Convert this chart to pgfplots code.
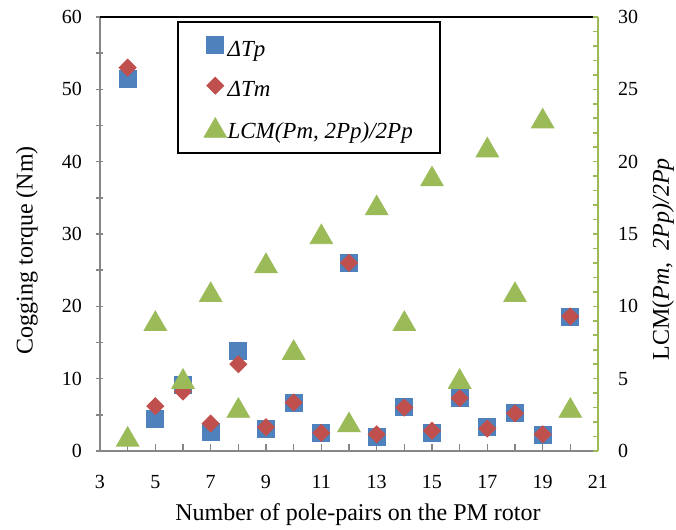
\documentclass[border=0pt]{standalone}
\usepackage{fontspec}
\setmainfont{Liberation Serif}
\usepackage{pgfplots}
\usepackage{pgfplotstable}
\pgfplotsset{compat=1.18}
\definecolor{cblue}{HTML}{4F81BD}
\definecolor{cred}{HTML}{C0504D}
\definecolor{cgreen}{HTML}{9BBB59}
\definecolor{cgray}{HTML}{868686}

\pgfplotstableread{
x  Tp    Tm    L
4  51.5  53.0  1
5  4.4   6.2   9
6  9.1   8.2   5
7  2.6   3.8   11
8  13.8  12.0  3
9  3.1   3.3   13
10 6.7   6.7   7
11 2.5   2.5   15
12 26.0  26.0  2
13 2.0   2.3   17
14 6.1   6.0   9
15 2.5   2.8   19
16 7.3   7.3   5
17 3.3   3.1   21
18 5.2   5.2   11
19 2.2   2.3   23
20 18.5  18.6  3
}\datatable

\begin{document}
\begin{tikzpicture}
\path[use as bounding box] (-50pt,-39.5pt) rectangle (288pt,225.5pt);
\begin{axis}[
  scale only axis, width=249pt, height=217pt,
  xmin=3, xmax=21, ymin=0, ymax=60,
  axis x line*=bottom, axis y line*=left,
  axis line style={cgray, line width=1pt},
  tick align=inside,
  xtick={3,5,...,21}, minor xtick={4,...,20},
  ytick={0,10,...,60}, minor ytick={5,15,...,55},
  major tick length=3.5pt, minor tick length=3.5pt,
  x tick style={cgray, line width=0.8pt},
  y tick style={cgray, line width=0.8pt, xshift=-2pt},
  tick label style={font=\fontsize{10}{12}\selectfont},
  /pgf/number format/assume math mode=true,
  xticklabel style={yshift=-8.5pt},
  yticklabel style={xshift=-5.5pt},
  xlabel={Number of pole-pairs on the PM rotor},
  ylabel={Cogging torque (Nm)},
  label style={font=\fontsize{12}{14}\selectfont},
  xlabel style={at={(axis description cs:0.518,-0.1475)}, anchor=center},
  ylabel style={at={(axis description cs:-0.1466,0.463)}, anchor=center},
  clip=false,
]
\draw[black, line width=0.8pt] (rel axis cs:0,1) -- (rel axis cs:1,1);
\addplot[only marks, mark=square*, mark size=4.25pt, mark options={draw=cblue, fill=cblue}] table[x=x, y=Tp] {\datatable};
\addplot[only marks, mark=square*, mark size=3pt, mark options={draw=cred, fill=cred, rotate=45}] table[x=x, y=Tm] {\datatable};
\end{axis}
\begin{axis}[
  scale only axis, width=249pt, height=217pt,
  xmin=3, xmax=21, ymin=0, ymax=30,
  axis x line=none, axis y line*=right,
  axis line style={cgreen, line width=1pt},
  tick align=inside,
  ytick={0,5,...,30}, minor ytick={1,...,29},
  major tick length=2.5pt, minor tick length=2.5pt,
  y tick style={cgreen, line width=0.8pt},
  tick label style={font=\fontsize{10}{12}\selectfont},
  /pgf/number format/assume math mode=true,
  yticklabel style={xshift=6.5pt},
  ylabel={LCM(\textit{Pm}, \ \textit{2Pp)/2Pp}},
  label style={font=\fontsize{12}{14}\selectfont},
  ylabel style={at={(axis description cs:1.1305,0.442)}, anchor=center},
  clip=false,
  legend image code/.code={\draw[#1] plot coordinates {(0cm,0.09cm)};},
  legend style={draw=none, fill=none, at={(axis description cs:0.196,0.965)}, anchor=north west,
    font=\fontsize{11.5}{14}\selectfont\itshape, row sep=7pt,
    nodes={inner sep=0.5pt, text height=9pt, text depth=3pt}},
  legend cell align=left,
]
\draw[black, line width=0.8pt, fill=white] (rel axis cs:0.1566,0.6866) rectangle (rel axis cs:0.683,0.9885);
\addlegendimage{only marks, mark=square*, mark size=4.25pt, mark options={draw=cblue, fill=cblue}}
\addlegendentry{ΔTp}
\addlegendimage{only marks, mark=square*, mark size=3pt, mark options={draw=cred, fill=cred, rotate=45}}
\addlegendentry{ΔTm}
\addplot[only marks, mark=triangle*, mark size=6.5pt, mark options={draw=cgreen, fill=cgreen, yshift=-1.6pt}] table[x=x, y=L] {\datatable};
\addlegendentry{LCM(Pm, 2Pp)/2Pp}
\end{axis}
\end{tikzpicture}
\end{document}
